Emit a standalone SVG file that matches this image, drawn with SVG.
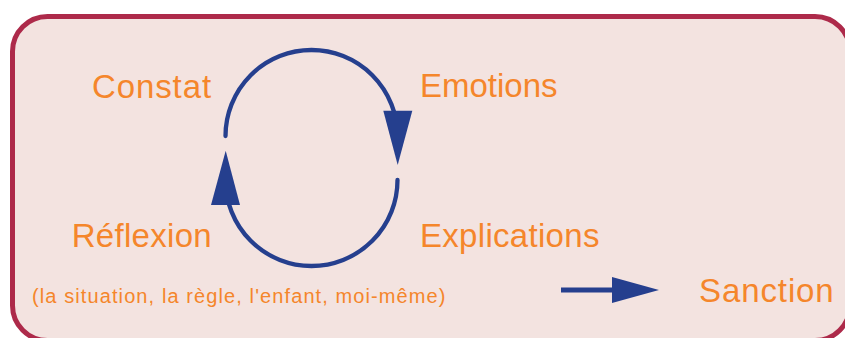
<svg xmlns="http://www.w3.org/2000/svg" width="845" height="338" viewBox="0 0 845 338">
  <style>
    .lbl { font-family: "Liberation Sans", Arial, sans-serif; fill: #f5862b; font-size: 33px; }
    .sub { font-family: "Liberation Sans", Arial, sans-serif; fill: #f5862b; font-size: 20px; letter-spacing: 1.1px; }
    .conn { fill: none; stroke: #253f8e; stroke-width: 4.3; stroke-linecap: round; }
    .head { fill: #253f8e; }
  </style>
  <rect x="0" y="0" width="845" height="338" fill="#ffffff"/>
  <g id="frame">
    <rect x="12.5" y="16.5" width="837.5" height="324" rx="35" ry="35" fill="#f3e3e0" stroke="#ad2a4a" stroke-width="5"/>
  </g>
  <g id="connectors">
    <path class="conn" d="M225.5,136 A86,86 0 0 1 397.5,136"/>
    <polygon class="head" points="383.3,110.7 412.3,110.7 397.7,165"/>
    <path class="conn" d="M397.5,180 A86,86 0 0 1 225.5,180"/>
    <polygon class="head" points="211,205 240,205 225.7,150.7"/>
    <line x1="561" y1="290" x2="615" y2="290" stroke="#253f8e" stroke-width="5"/>
    <polygon class="head" points="612,277 659,290 612,303"/>
  </g>
  <g id="constat"><text class="lbl" x="212" y="98" text-anchor="end" letter-spacing="0.9">Constat</text></g>
  <g id="emotions"><text class="lbl" x="420" y="97">Emotions</text></g>
  <g id="reflexion"><text class="lbl" x="212" y="247" text-anchor="end" letter-spacing="0.3">Réflexion</text></g>
  <g id="explications"><text class="lbl" x="420" y="247" letter-spacing="0.3">Explications</text></g>
  <g id="reflexion-detail"><text class="sub" x="32" y="303">(la situation, la règle, l'enfant, moi-même)</text></g>
  <g id="sanction"><text class="lbl" x="699" y="302" letter-spacing="0.9">Sanction</text></g>
</svg>
